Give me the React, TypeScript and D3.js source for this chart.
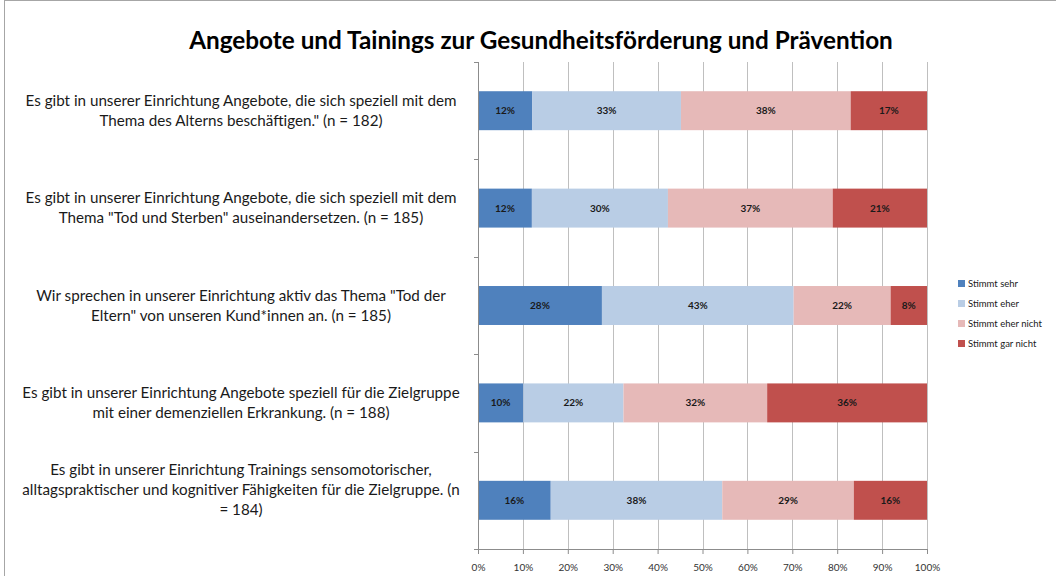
import { useEffect, useRef } from 'react';
import * as d3 from 'd3';

const title = 'Angebote und Tainings zur Gesundheitsförderung und Prävention';

const categories = [
  ['Es gibt in unserer Einrichtung Angebote, die sich speziell mit dem', 'Thema des Alterns beschäftigen." (n = 182)'],
  ['Es gibt in unserer Einrichtung Angebote, die sich speziell mit dem', 'Thema "Tod und Sterben" auseinandersetzen. (n = 185)'],
  ['Wir sprechen in unserer Einrichtung aktiv das Thema "Tod der', 'Eltern" von unseren Kund*innen an. (n = 185)'],
  ['Es gibt in unserer Einrichtung Angebote speziell für die Zielgruppe', 'mit einer demenziellen Erkrankung. (n = 188)'],
  ['Es gibt in unserer Einrichtung Trainings sensomotorischer,', 'alltagspraktischer und kognitiver Fähigkeiten für die Zielgruppe. (n', '= 184)'],
];

const seriesNames = ['Stimmt sehr', 'Stimmt eher', 'Stimmt eher nicht', 'Stimmt gar nicht'];
const seriesColors = ['#4F81BD', '#B9CDE5', '#E6B9B8', '#C0504D'];

const stimmtSehr = [12.1, 12.0, 27.6, 10.1, 16.2];
const stimmtEher = [33.1, 30.3, 42.7, 22.3, 38.2];
const stimmtEherNicht = [37.8, 36.7, 21.6, 32.0, 29.3];
const stimmtGarNicht = [17.0, 21.0, 8.1, 35.6, 16.3];

const xTicks = [0, 10, 20, 30, 40, 50, 60, 70, 80, 90, 100];

const FONT = 'Lato, "Open Sans", sans-serif';

const App = () => {
  const ref = useRef<SVGSVGElement>(null);
  const width = 1056;
  const height = 576;
  const margin = { top: 62, left: 478, right: 129, bottom: 27 };

  useEffect(() => {
    const svg = d3.select(ref.current);
    svg.selectAll('*').remove();

    svg.append('rect')
      .attr('x', 4.5).attr('y', 0.5)
      .attr('width', 1100).attr('height', 700)
      .attr('fill', '#fff').attr('stroke', '#A6A6A6');

    svg.append('text')
      .attr('x', 541).attr('y', 49)
      .attr('text-anchor', 'middle')
      .attr('font-family', FONT)
      .attr('font-weight', 'bold')
      .attr('font-size', 24.3)
      .text(title);

    const x = d3.scaleLinear().domain([0, 100]).range([margin.left, width - margin.right]);
    const y = d3.scaleBand<number>()
      .domain(d3.range(categories.length))
      .range([margin.top, height - margin.bottom])
      .paddingInner(0.6)
      .paddingOuter(0.3);

    // gridlines
    svg.append('g')
      .selectAll('line')
      .data(xTicks)
      .join('line')
      .attr('x1', (d) => Math.round(x(d)) + 0.5)
      .attr('x2', (d) => Math.round(x(d)) + 0.5)
      .attr('y1', margin.top)
      .attr('y2', height - margin.bottom)
      .attr('stroke', '#BFBFBF');

    const rows = categories.map((_, i) => ({
      i,
      vals: [stimmtSehr[i], stimmtEher[i], stimmtEherNicht[i], stimmtGarNicht[i]],
    }));
    const stacked = rows.flatMap((r) => {
      let acc = 0;
      return r.vals.map((v, k) => {
        const s = { i: r.i, k, v, x0: acc, x1: acc + v };
        acc += v;
        return s;
      });
    });

    const bars = svg.append('g');
    bars.selectAll('rect')
      .data(stacked)
      .join('rect')
      .attr('x', (d) => x(d.x0))
      .attr('y', (d) => y(d.i)!)
      .attr('width', (d) => x(Math.min(d.x1, 100)) - x(d.x0))
      .attr('height', y.bandwidth())
      .attr('fill', (d) => seriesColors[d.k]);

    bars.selectAll('text')
      .data(stacked)
      .join('text')
      .attr('x', (d) => (x(d.x0) + x(Math.min(d.x1, 100))) / 2)
      .attr('y', (d) => y(d.i)! + y.bandwidth() / 2)
      .attr('dy', '0.35em')
      .attr('text-anchor', 'middle')
      .attr('font-family', FONT)
      .attr('font-weight', 'bold')
      .attr('font-size', 10)
      .attr('fill', '#1a1a1a')
      .text((d) => `${Math.round(d.v)}%`);

    // x axis
    const xAxis = svg.append('g')
      .attr('transform', `translate(0,${height - margin.bottom})`)
      .call(d3.axisBottom(x).tickValues(xTicks).tickSize(5).tickFormat((d) => `${d}%`));
    xAxis.select('.domain').attr('stroke', '#8C8C8C');
    xAxis.selectAll('.tick line').attr('stroke', '#8C8C8C');
    xAxis.selectAll('.tick text')
      .attr('font-family', FONT)
      .attr('font-size', 10)
      .attr('fill', '#333')
      .attr('dy', '1.35em');

    // y axis
    const step = y.step();
    const boundaries = d3.range(categories.length + 1).map((i) => margin.top + i * step);
    const yAxis = svg.append('g');
    yAxis.append('line')
      .attr('x1', margin.left + 0.5).attr('x2', margin.left + 0.5)
      .attr('y1', margin.top).attr('y2', height - margin.bottom)
      .attr('stroke', '#8C8C8C');
    yAxis.selectAll('line.tk')
      .data(boundaries)
      .join('line')
      .attr('class', 'tk')
      .attr('x1', margin.left - 4).attr('x2', margin.left)
      .attr('y1', (d) => Math.round(d) + 0.5).attr('y2', (d) => Math.round(d) + 0.5)
      .attr('stroke', '#8C8C8C');

    // category labels
    const lineH = 20;
    categories.forEach((lines, i) => {
      const cy = y(i)! + y.bandwidth() / 2 - (lines.length > 2 ? 11 : 0);
      const t = svg.append('text')
        .attr('text-anchor', 'middle')
        .attr('font-family', FONT)
        .attr('font-size', 15.2)
        .attr('fill', '#1a1a1a');
      lines.forEach((ln, j) => {
        t.append('tspan')
          .attr('x', 241)
          .attr('y', cy + (j - (lines.length - 1) / 2) * lineH)
          .attr('dy', '0.35em')
          .text(ln);
      });
    });

    // legend
    const lg = svg.append('g').attr('transform', 'translate(958,284)');
    seriesNames.forEach((n, k) => {
      lg.append('rect')
        .attr('x', 0).attr('y', k * 20 - 4)
        .attr('width', 7).attr('height', 7)
        .attr('fill', seriesColors[k]);
      lg.append('text')
        .attr('x', 10).attr('y', k * 20)
        .attr('dy', '0.35em')
        .attr('font-family', FONT)
        .attr('font-size', 9.5)
        .attr('fill', '#1a1a1a')
        .text(n);
    });
  }, []);

  return (
    <svg
      ref={ref}
      width={width}
      height={height}
      style={{ position: 'absolute', left: 0, top: 0, background: '#fff' }}
    />
  );
};

export default App;
